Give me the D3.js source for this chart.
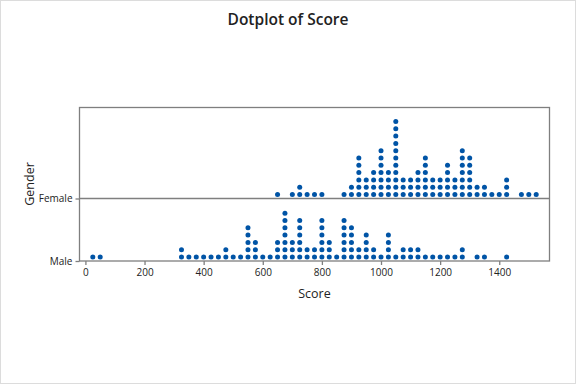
<!DOCTYPE html>
<html lang="en">
	<head>
		<meta charset="utf-8">
		<title>Dotplot of Score</title>
		<script type="text/javascript" src="https://d3js.org/d3.v7.min.js"></script>
		<style type="text/css">
            body{
                margin:0;
                padding:0;
                background:#fff;
            }
            text{
                font-family:"Open Sans", "Noto Sans", sans-serif;
                fill:#222;
            }
		</style>
	</head>
	<body>
        <div id="chart"></div>
		<script type="text/javascript">
            // data: bin centres (score) and number of dots in each bin
            var categories = ["Male","Female"]
            var maleScores = [25,50,325,350,375,400,425,450,475,500,525,550,575,600,625,650,675,700,725,750,775,800,825,850,875,900,925,950,975,1000,1025,1050,1075,1100,1125,1150,1175,1200,1225,1250,1275,1325,1350,1425]
            var maleCounts = [1,1,2,1,1,1,1,1,2,1,1,5,3,1,1,3,7,3,6,2,2,6,3,1,6,5,2,4,2,1,4,1,2,2,2,1,1,1,1,1,2,1,1,1]
            var femaleScores = [650,700,725,750,775,800,875,900,925,950,975,1000,1025,1050,1075,1100,1125,1150,1175,1200,1225,1250,1275,1300,1325,1350,1375,1400,1425,1475,1500,1525]
            var femaleCounts = [1,1,2,1,1,1,1,2,6,3,4,7,4,11,3,3,4,6,3,3,5,3,7,6,2,2,1,1,3,1,1,1]
            var xTicks = [0,200,400,600,800,1000,1200,1400]

            var width = 576
            var height = 384
            // plot frame
            var pLeft = 79.5, pRight = 549.5, pTop = 107.5, pBottom = 261
            var dotStep = 7.3
            var dotR = 2.5
            var blue = "#0054a6"
            var gray = "#7f7f7f"

            var svg = d3.select("#chart").append("svg")
                .attr("width",width)
                .attr("height",height)

            // outer border
            svg.append("rect")
                .attr("x",0.5).attr("y",0.5)
                .attr("width",width-1).attr("height",height-1)
                .attr("fill","none").attr("stroke","#dcdcdc")

            var x = d3.scaleLinear().domain([-20,1570]).range([pLeft,pRight])
            var y = d3.scalePoint().domain(categories).range([pBottom,198.5])

            // build the dot list from the bins
            var dots = []
            function addDots(gender,scores,counts){
                for(var i=0;i<scores.length;i++){
                    for(var k=0;k<counts[i];k++){
                        dots.push({gender:gender,score:scores[i],level:k})
                    }
                }
            }
            addDots("Male",maleScores,maleCounts)
            addDots("Female",femaleScores,femaleCounts)

            // frame
            svg.append("rect")
                .attr("x",pLeft).attr("y",pTop)
                .attr("width",pRight-pLeft).attr("height",pBottom-pTop)
                .attr("fill","none").attr("stroke",gray).attr("stroke-width",1.3)

            // category separator
            svg.append("line")
                .attr("x1",pLeft).attr("x2",pRight)
                .attr("y1",y("Female")).attr("y2",y("Female"))
                .attr("stroke",gray).attr("stroke-width",1.3)

            // x axis
            var xAxis = svg.append("g")
                .attr("transform","translate(0,"+pBottom+")")
                .call(d3.axisBottom(x).tickValues(xTicks).tickFormat(d3.format("d")).tickSize(4).tickPadding(4))
            xAxis.select(".domain").remove()
            xAxis.selectAll("line").attr("stroke",gray).attr("stroke-width",1.3)
            xAxis.selectAll("text").style("font-size","10px").style("font-family","'Open Sans', sans-serif").attr("fill","#1a1a1a")

            // y axis
            var yAxis = svg.append("g")
                .attr("transform","translate("+pLeft+",0)")
                .call(d3.axisLeft(y).tickSize(4).tickPadding(3))
            yAxis.select(".domain").remove()
            yAxis.selectAll("line").attr("stroke",gray).attr("stroke-width",1.3)
            yAxis.selectAll("text").style("font-size","10px").style("font-family","'Open Sans', sans-serif").attr("fill","#1a1a1a")

            // dots
            svg.append("g").selectAll("circle")
                .data(dots)
                .enter()
                .append("circle")
                .attr("cx",function(d){ return x(d.score) })
                .attr("cy",function(d){ return y(d.gender) - 4 - d.level*dotStep })
                .attr("r",dotR)
                .attr("fill",blue)

            // titles
            svg.append("text")
                .attr("x",288).attr("y",25)
                .attr("text-anchor","middle")
                .style("font-size","15.5px")
                .style("font-weight","600")
                .attr("fill","#333")
                .text("Dotplot of Score")

            svg.append("text")
                .attr("x",(pLeft+pRight)/2).attr("y",298)
                .attr("text-anchor","middle")
                .style("font-size","12.5px")
                .attr("fill","#333")
                .text("Score")

            svg.append("text")
                .attr("transform","translate(34,184) rotate(-90)")
                .attr("text-anchor","middle")
                .style("font-size","12.5px")
                .attr("fill","#333")
                .text("Gender")
		</script>
	</body>
</html>
